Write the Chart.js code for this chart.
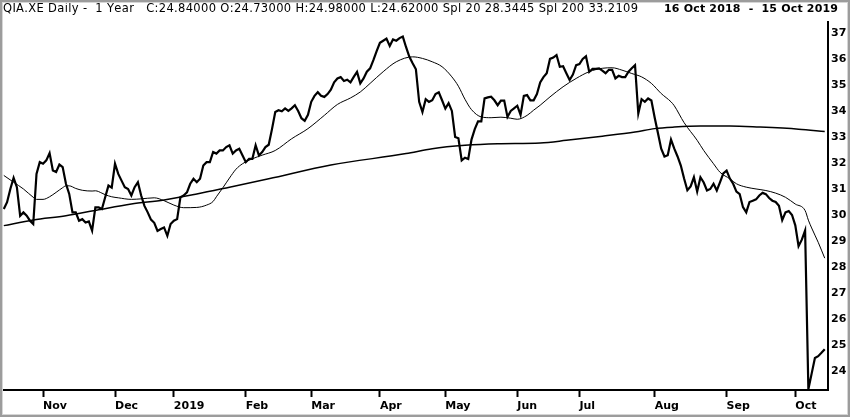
<!DOCTYPE html>
<html>
<head>
<meta charset="utf-8">
<title>QIA.XE Daily</title>
<script src="https://cdn.jsdelivr.net/npm/chart.js@4.4.1/dist/chart.umd.min.js"></script>
<style>
  html, body { margin: 0; padding: 0; background: #fff; }
  #wrap { position: relative; width: 850px; height: 417px; }
</style>
</head>
<body>
<div id="wrap"><canvas id="priceChart"></canvas></div>
<script>
// Daily closes, 16 Oct 2018 - 15 Oct 2019 (one per trading day)
const closes = [
  30.23, 30.49, 31.0, 31.43, 31.07, 29.97, 30.1, 29.97, 29.78, 29.65,
  31.58, 32.03, 31.97, 32.1, 32.38, 31.71, 31.65, 31.94, 31.84, 31.2,
  30.81, 30.1, 30.1, 29.78, 29.84, 29.71, 29.75, 29.4, 30.29, 30.29,
  30.23, 30.68, 31.13, 31.05, 31.97, 31.58, 31.32, 31.07, 31.0, 30.75,
  31.07, 31.26, 30.75, 30.35, 30.1, 29.82, 29.7, 29.39, 29.46, 29.52,
  29.2, 29.65, 29.78, 29.84, 30.68, 30.75, 30.87, 31.2, 31.39, 31.26,
  31.39, 31.9, 32.03, 32.03, 32.42, 32.36, 32.48, 32.48, 32.61, 32.68,
  32.36, 32.48, 32.55, 32.29, 32.03, 32.16, 32.16, 32.68, 32.29, 32.42,
  32.61, 32.7, 33.3, 33.96, 34.03, 33.99, 34.1, 34.0, 34.1, 34.22,
  34.0, 33.72, 33.62, 33.85, 34.35, 34.58, 34.72, 34.58, 34.54, 34.65,
  34.82, 35.1, 35.25, 35.3, 35.15, 35.2, 35.1, 35.31, 35.5, 35.06,
  35.25, 35.51, 35.64, 35.95, 36.3, 36.62, 36.7, 36.78, 36.5, 36.75,
  36.7, 36.8, 36.86, 36.45, 36.08, 35.83, 35.6, 34.35, 33.96, 34.45,
  34.35, 34.41, 34.65, 34.72, 34.41, 34.09, 34.3, 34.0, 33.0, 32.95,
  32.1, 32.2, 32.15, 32.9, 33.3, 33.6, 33.6, 34.48, 34.52, 34.55,
  34.41, 34.22, 34.4, 34.4, 33.77, 34.0, 34.1, 34.2, 33.85, 34.58,
  34.61, 34.41, 34.41, 34.65, 35.1, 35.3, 35.45, 36.0, 36.05, 36.15,
  35.7, 35.72, 35.45, 35.19, 35.4, 35.76, 35.8, 36.0, 36.1, 35.5,
  35.62, 35.62, 35.64, 35.55, 35.45, 35.58, 35.58, 35.25, 35.35, 35.3,
  35.3, 35.51, 35.64, 35.76, 33.9, 34.45, 34.35, 34.48, 34.4, 33.75,
  33.15, 32.55, 32.25, 32.3, 32.9, 32.55, 32.25, 31.9, 31.4, 30.95,
  31.1, 31.45, 30.9, 31.45, 31.25, 30.94, 31.0, 31.2, 30.94, 31.26,
  31.6, 31.71, 31.4, 31.2, 30.9, 30.8, 30.3, 30.1, 30.5, 30.55,
  30.6, 30.75, 30.85, 30.8, 30.65, 30.55, 30.5, 30.35, 29.8, 30.1,
  30.15, 30.0, 29.6, 28.8, 29.05, 29.4, 23.3, 23.9, 24.5, 24.57,
  24.7, 24.84
];

// 20-day simple average, read at these trading-day positions
const sma20Days = [0, 3, 6, 9, 10, 12, 14, 16, 18, 19, 20, 22, 24, 27, 28, 30, 31, 33, 35, 39,
  42, 46, 49, 52, 55, 59, 62, 64, 65, 67, 69, 71, 73, 76, 79, 83, 88, 93, 98, 102,
  106, 109, 112, 116, 120, 125, 128, 131, 134, 137, 139, 141, 143, 146, 149, 152, 155, 157, 160, 162,
  164, 167, 171, 175, 179, 183, 186, 189, 192, 195, 198, 201, 204, 205, 208, 212, 214, 217, 219, 222,
  224, 227, 230, 233, 236, 239, 242, 245, 246, 247, 249, 251];
const sma20Vals = [31.52, 31.26, 31.0, 30.68, 30.6, 30.6, 30.7, 30.87, 31.05, 31.12, 31.12, 31.02, 30.95, 30.92, 30.93, 30.84, 30.78, 30.7, 30.66, 30.6,
  30.62, 30.66, 30.55, 30.38, 30.28, 30.29, 30.38, 30.52, 30.7, 31.05, 31.42, 31.76, 31.97, 32.16, 32.3, 32.48, 32.93, 33.32, 33.83, 34.25,
  34.5, 34.73, 35.06, 35.51, 35.89, 36.08, 36.02, 35.89, 35.7, 35.31, 34.95, 34.45, 34.05, 33.77, 33.74, 33.76, 33.72, 33.68, 33.83, 34.03,
  34.22, 34.54, 34.93, 35.25, 35.51, 35.64, 35.66, 35.57, 35.44, 35.31, 35.06, 34.67, 34.35, 34.2, 33.55, 32.87, 32.48, 31.97, 31.64, 31.39,
  31.2, 31.07, 31.0, 30.94, 30.84, 30.68, 30.42, 30.17, 29.8, 29.5, 28.95, 28.34];

// 200-day simple average
const sma200Days = [0, 9, 19, 29, 39, 49, 59, 69, 81, 100, 123, 131, 141, 151, 164, 172, 183, 193, 199, 205, 213, 222, 231, 243, 251];
const sma200Vals = [29.59, 29.81, 29.97, 30.2, 30.42, 30.58, 30.81, 31.07, 31.39, 31.92, 32.36, 32.55, 32.68, 32.74, 32.77, 32.87, 33.03, 33.19, 33.32, 33.38, 33.42, 33.42, 33.38, 33.3, 33.21];

// first trading day of each month and its label
const monthTickDays = [12, 34, 52, 74, 94, 115, 135, 157, 176, 199, 221, 242];
const monthTickLabels = ['Nov', 'Dec', '2019', 'Feb', 'Mar', 'Apr', 'May', 'Jun', 'Jul', 'Aug', 'Sep', 'Oct'];
const priceTicks = [24, 25, 26, 27, 28, 29, 30, 31, 32, 33, 34, 35, 36, 37];

const headerLeft = 'QIA.XE Daily -  1 Year   C:24.84000 O:24.73000 H:24.98000 L:24.62000 Spl 20 28.3445 Spl 200 33.2109';
const headerRight = '16 Oct 2018  -  15 Oct 2019';

const axisFont = { family: 'DejaVu Sans', size: 11, weight: 'bold' };

// draws text stretched to a given width by spacing out the letters
function spreadText(ctx, text, x, y, width) {
  const chars = Array.from(text);
  let w0 = 0;
  for (const ch of chars) w0 += ctx.measureText(ch).width;
  const gap = (width - w0) / (chars.length - 1);
  ctx.textAlign = 'left';
  let cx = x;
  for (const ch of chars) {
    ctx.fillText(ch, cx, y);
    cx += ctx.measureText(ch).width + gap;
  }
}

// header text and the grey frame round the picture
const headerPlugin = {
  id: 'header',
  afterDraw(chart) {
    const ctx = chart.ctx;
    ctx.save();
    ctx.fillStyle = '#000';
    ctx.textBaseline = 'alphabetic';
    ctx.font = '11.5px "DejaVu Sans"';
    spreadText(ctx, headerLeft, 3, 12, 635);
    ctx.font = 'bold 11px "DejaVu Sans"';
    spreadText(ctx, headerRight, 664, 12, 174);
    ctx.strokeStyle = '#9c9c9c';
    ctx.lineWidth = 2;
    ctx.strokeRect(1, 1, chart.width - 2, chart.height - 2);
    ctx.strokeStyle = '#d6d6d6';
    ctx.lineWidth = 1;
    ctx.strokeRect(2.5, 2.5, chart.width - 5, chart.height - 5);
    ctx.restore();
  }
};

const toPoints = (days, vals) => days.map((d, i) => ({ x: d, y: vals[i] }));

var ctx = document.getElementById('priceChart').getContext('2d');
var chart = new Chart(ctx, {
  type: 'line',
  data: {
    datasets: [{
      label: 'QIA.XE',
      data: closes.map((c, i) => ({ x: i, y: c })),
      borderColor: '#000',
      borderWidth: 2.2,
      tension: 0
    }, {
      label: 'Spl 20',
      data: toPoints(sma20Days, sma20Vals),
      borderColor: '#000',
      borderWidth: 1,
      cubicInterpolationMode: 'monotone'
    }, {
      label: 'Spl 200',
      data: toPoints(sma200Days, sma200Vals),
      borderColor: '#000',
      borderWidth: 1.5,
      cubicInterpolationMode: 'monotone'
    }]
  },
  options: {
    responsive: true,
    maintainAspectRatio: false,
    animation: false,
    layout: { padding: { left: 2, top: 22, right: 0, bottom: 0 } },
    elements: { point: { radius: 0 } },
    plugins: {
      legend: { display: false },
      tooltip: { enabled: false }
    },
    scales: {
      x: {
        type: 'linear',
        min: -0.55,
        max: 252,
        afterBuildTicks: (s) => { s.ticks = monthTickDays.map(v => ({ value: v })); },
        afterFit: (s) => { s.height = 27; },
        ticks: {
          autoSkip: false,
          maxRotation: 0,
          align: 'start',
          padding: 3,
          color: '#000',
          font: axisFont,
          callback: (v, i) => monthTickLabels[i]
        },
        grid: { drawOnChartArea: false, tickLength: 7, tickWidth: 2, tickColor: '#000' },
        border: { color: '#000', width: 2 }
      },
      y: {
        position: 'right',
        min: 23.27,
        max: 37.42,
        afterBuildTicks: (s) => { s.ticks = priceTicks.map(v => ({ value: v })); },
        afterFit: (s) => { s.width = 22; },
        ticks: { padding: 3, color: '#000', font: axisFont },
        grid: { drawOnChartArea: false, drawTicks: false },
        border: { color: '#000', width: 2 }
      }
    }
  },
  plugins: [headerPlugin]
});
</script>
</body>
</html>
